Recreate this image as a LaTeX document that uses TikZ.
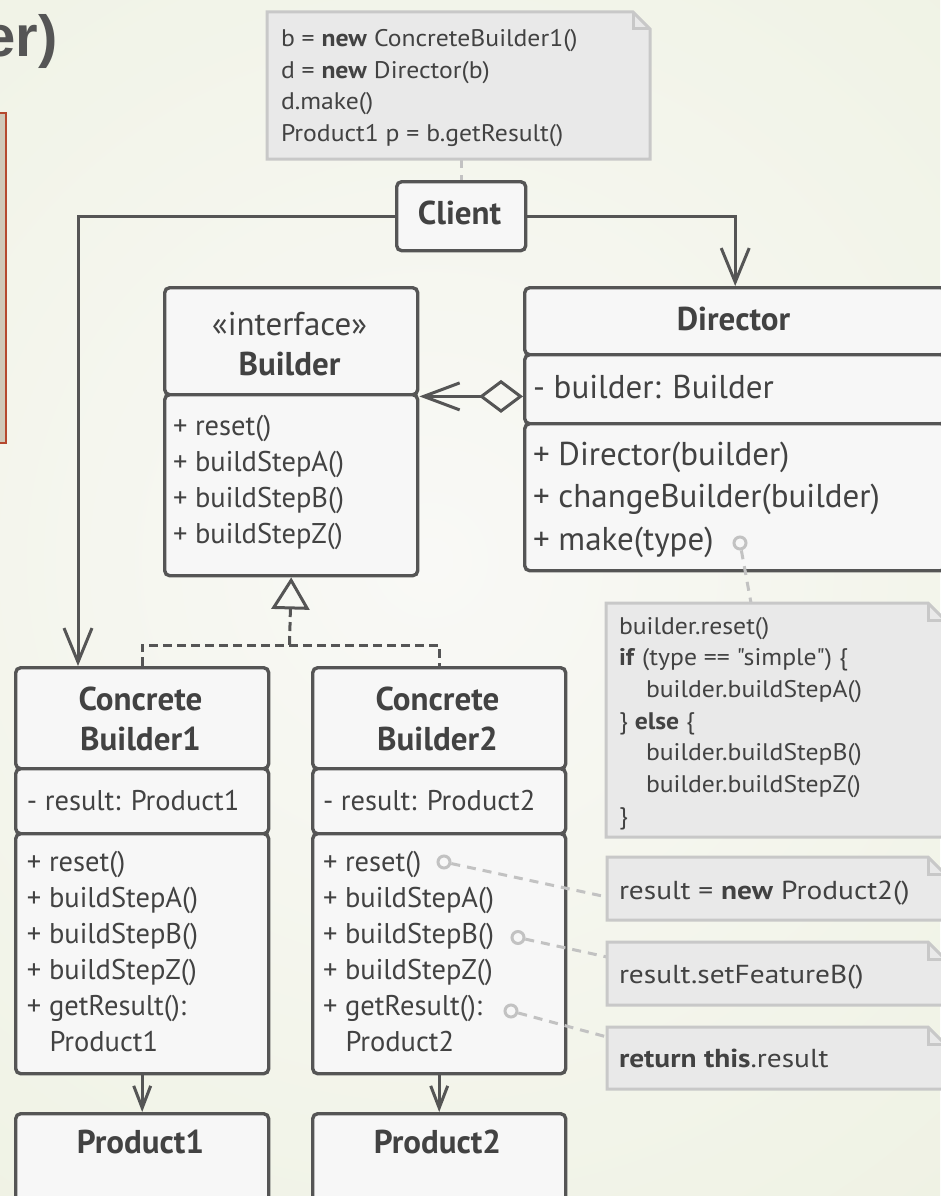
\documentclass[tikz,border=0pt]{standalone}
\usepackage{fontspec}
\setmainfont{PT Sans}
\newfontfamily\titlefont{Liberation Sans}
\newfontfamily\notefont[FakeStretch=1.07]{PT Sans}
\newfontfamily\notewidefont[FakeStretch=1.13]{PT Sans}
\usetikzlibrary{arrows.meta,calc}

\definecolor{bgin}{HTML}{F9F9F6}
\definecolor{bgout}{HTML}{E7ECD5}
\definecolor{ink}{HTML}{424242}
\definecolor{edge}{HTML}{555555}
\definecolor{boxfill}{HTML}{F7F7F7}
\definecolor{notefill}{HTML}{E9E9E9}
\definecolor{noteedge}{HTML}{C8C8C8}
\definecolor{hint}{HTML}{C2C2C2}
\definecolor{titlegray}{HTML}{555555}
\definecolor{panelfill}{HTML}{D0C8B8}
\definecolor{panelline}{HTML}{B5482E}

\newcommand\fname{\fontsize{33}{40}\selectfont\bfseries}
\newcommand\fmemb{\fontsize{28.5}{36}\selectfont}
\newcommand\fdir{\fontsize{33}{42.5}\selectfont}
\newcommand\fnote{\notefont\fontsize{24}{31.7}\selectfont}
\newcommand\fnotewide{\notewidefont\fontsize{26}{31.7}\selectfont}

% note body with a folded top-right corner
\newcommand\dognote[1]{%
  \draw[notebody] (#1.south west) -- (#1.north west) -- ([xshift=-17pt]#1.north east)
    -- ([yshift=-17pt]#1.north east) -- (#1.south east) -- cycle;
  \draw[notefold] ([xshift=-17pt]#1.north east) |- ([yshift=-17pt]#1.north east);}

\begin{document}
\begin{tikzpicture}[x=1pt,y=-1pt,
  comp/.style={draw=edge, fill=boxfill, line width=3.4pt, rounded corners=5pt,
    inner sep=0pt, anchor=north west},
  txt/.style={inner sep=0pt, outer sep=0pt, text=ink, align=left},
  notearea/.style={inner sep=0pt, outer sep=0pt, anchor=north west},
  notebody/.style={fill=notefill, draw=noteedge, line width=3pt},
  notefold/.style={draw=noteedge, line width=3pt},
  link/.style={draw=edge, line width=3pt},
  realize/.style={draw=edge, line width=3pt, dash pattern=on 9pt off 5pt},
  hintline/.style={draw=hint, line width=3pt, dash pattern=on 9pt off 7pt},
  port/.style={circle, draw=hint, line width=3pt, minimum size=12pt, inner sep=0pt},
  bigbarb/.style={-{Straight Barb[length=34pt,width=28pt]}},
  smallbarb/.style={-{Straight Barb[length=22pt,width=17pt]}}]

\useasboundingbox (0,0) rectangle (940,1196);
\begin{scope}
  \clip (0,0) rectangle (940,1196);
  \shade[inner color=bgin, outer color=bgout] (430,560) circle (1500);
\end{scope}

% side panel and heading fragment
\node[draw=panelline, fill=panelfill, line width=2pt, minimum width=20pt,
  minimum height=330pt, inner sep=0pt, anchor=north east] (panel) at (6.5,112) {};
\node[inner sep=0pt, anchor=base east, text=titlegray,
  font=\titlefont\fontsize{58}{60}\selectfont\bfseries] (title) at (58,57) {er)};

% classes
\node[comp, minimum width=129pt, minimum height=69pt] (client) at (395,180) {};

\node[comp, minimum width=253pt, minimum height=107pt] (bldH) at (163,286) {};
\node[comp, minimum width=253pt, minimum height=181pt] (bldM) at (163,393) {};

\node[comp, minimum width=421pt, minimum height=67pt] (dirH) at (523,286) {};
\node[comp, minimum width=421pt, minimum height=69pt] (dirF) at (523,353) {};
\node[comp, minimum width=421pt, minimum height=147pt] (dirM) at (523,422) {};

\node[comp, minimum width=253pt, minimum height=101pt] (cb1H) at (14,666) {};
\node[comp, minimum width=253pt, minimum height=65pt] (cb1F) at (14,767) {};
\node[comp, minimum width=253pt, minimum height=240pt] (cb1M) at (14,832) {};
\node[comp, minimum width=253pt, minimum height=120pt] (prod1) at (14,1112) {};

\node[comp, minimum width=253pt, minimum height=101pt] (cb2H) at (311,666) {};
\node[comp, minimum width=253pt, minimum height=65pt] (cb2F) at (311,767) {};
\node[comp, minimum width=253pt, minimum height=240pt] (cb2M) at (311,832) {};
\node[comp, minimum width=253pt, minimum height=120pt] (prod2) at (311,1112) {};

% connectors
\draw[link, bigbarb] (client.west) -| ([xshift=64pt]cb1H.north west);
\draw[link, bigbarb] (client.east) -| (dirH.north);
\draw[link, {Diamond[open,length=44pt,width=33pt]}-{Straight Barb[length=36pt,width=27pt]}]
  (dirF.west |- bldH.south) -- (bldH.south east);
\coordinate (rj) at (289.5,645);
\draw[realize] (cb1H.north) |- (rj) -| (cb2H.north);
\draw[realize, -{Triangle[open,length=32pt,width=38pt]}] (rj) -- (bldM.south);
\draw[link, smallbarb] (cb1M.south) -- (prod1.north);
\draw[link, smallbarb] (cb2M.south) -- (prod2.north);

% texts (multi-line nodes are placed by the baseline of their last line)
\node[txt, font=\fname, anchor=base] (clientT) at (459.5,224) {Client};

\node[txt, font=\fdir, anchor=base] (bldS) at (289.5,335) {«interface»};
\node[txt, font=\fname, anchor=base] (bldN) at (289.5,375) {Builder};
\node[txt, font=\fmemb, anchor=base west] (bldOps) at (173,543)
  {+ reset()\\+ buildStepA()\\+ buildStepB()\\+ buildStepZ()};

\node[txt, font=\fname, anchor=base] (dirN) at (733.5,330) {Director};
\node[txt, font=\fdir, anchor=base west] (dirFld) at (533,398) {- builder: Builder};
\node[txt, font=\fdir, anchor=base west] (dirOps) at (533,550)
  {+ Director(builder)\\+ changeBuilder(builder)\\+ make(type)};

\node[txt, font=\fname, align=center, anchor=base] (cb1N) at (140.5,750) {Concrete\\Builder1};
\node[txt, font=\fmemb, anchor=base west] (cb1Fld) at (27,810) {- result: Product1};
\node[txt, font=\fmemb, anchor=base west] (cb1Ops) at (27,1051)
  {+ reset()\\+ buildStepA()\\+ buildStepB()\\+ buildStepZ()\\+ getResult():\\\hspace*{22.5pt}Product1};
\node[txt, font=\fname, anchor=base] (prod1T) at (140.5,1153) {Product1};

\node[txt, font=\fname, align=center, anchor=base] (cb2N) at (437.5,750) {Concrete\\Builder2};
\node[txt, font=\fmemb, anchor=base west] (cb2Fld) at (323,810) {- result: Product2};
\node[txt, font=\fmemb, anchor=base west] (cb2Ops) at (323,1051)
  {+ reset()\\+ buildStepA()\\+ buildStepB()\\+ buildStepZ()\\+ getResult():\\\hspace*{22.5pt}Product2};
\node[txt, font=\fname, anchor=base] (prod2T) at (437.5,1153) {Product2};

% note anchors on members
\node[port] (pMake) at (740,543) {};
\node[port] (pReset) at (444,862) {};
\node[port] (pStepB) at (518,937.5) {};
\node[port] (pGet) at (511,1011) {};

% notes
\node[notearea, minimum width=383pt, minimum height=147pt] (nClient) at (267,12) {};
\node[notearea, minimum width=339pt, minimum height=234pt] (nMake) at (606,603) {};
\node[notearea, minimum width=338pt, minimum height=63pt] (nReset) at (607,857) {};
\node[notearea, minimum width=338pt, minimum height=63pt] (nStepB) at (607,942) {};
\node[notearea, minimum width=338pt, minimum height=62pt] (nGet) at (607,1027) {};

\draw[hintline] (nClient.south -| client.north) -- (client.north);
\draw[hintline] (pMake) -- ([xshift=145pt]nMake.north west);
\draw[hintline] (pReset) -- ([yshift=-40pt]nReset.north west);
\draw[hintline] (pStepB) -- ([yshift=-15pt]nStepB.north west);
\draw[hintline] (pGet) -- ([yshift=-10pt]nGet.north west);

\dognote{nClient}
\dognote{nMake}
\dognote{nReset}
\dognote{nStepB}
\dognote{nGet}

\node[txt, font=\fnote, anchor=base west] (nClientT) at (281,141.6)
  {b = \textbf{new} ConcreteBuilder1()\\d = \textbf{new} Director(b)\\d.make()\\Product1 p = b.getResult()};
\node[txt, font=\fnote, anchor=base west] (nMakeT) at (619,824.2)
  {builder.reset()\\\textbf{if} (type == "simple") \{\\\hspace*{27pt}builder.buildStepA()\\\} \textbf{else} \{\\\hspace*{27pt}builder.buildStepB()\\\hspace*{27pt}builder.buildStepZ()\\\}};
\node[txt, font=\fnotewide, anchor=base west] (nResetT) at (619,899) {result = \textbf{new} Product2()};
\node[txt, font=\fnotewide, anchor=base west] (nStepBT) at (619,983) {result.setFeatureB()};
\node[txt, font=\fnotewide, anchor=base west] (nGetT) at (619,1067.5) {\textbf{return this}.result};

\end{tikzpicture}
\end{document}
